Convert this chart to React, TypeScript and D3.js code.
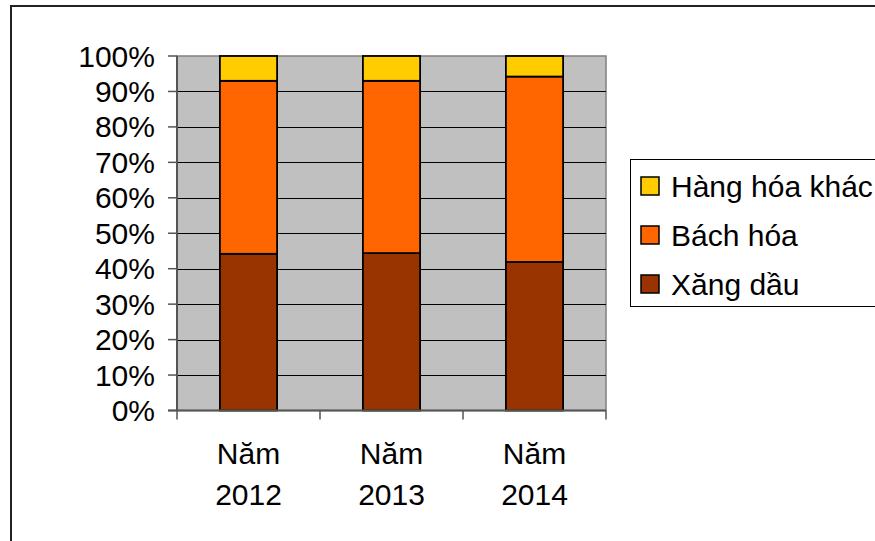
import * as d3 from 'd3'

// Categories and stacked shares (percent)
const YEARS = ['Năm 2012', 'Năm 2013', 'Năm 2014']
const XANG_DAU = [44.2, 44.4, 41.9]
const BACH_HOA = [48.8, 48.6, 52.3]
const HANG_KHAC = [7.0, 7.0, 5.8]
const Y_TICKS = [0, 10, 20, 30, 40, 50, 60, 70, 80, 90, 100]

const SERIES = [
  { name: 'Xăng dầu', values: XANG_DAU, color: '#993300' },
  { name: 'Bách hóa', values: BACH_HOA, color: '#FF6600' },
  { name: 'Hàng hóa khác', values: HANG_KHAC, color: '#FFCC00' },
]

const W = 875
const H = 541
const FONT = 'Liberation Sans, Arial, sans-serif'

const plot = { left: 177, right: 606, top: 56, bottom: 410.5 }

const App = () => {
  const x = d3.scaleBand<string>()
    .domain(YEARS)
    .range([plot.left, plot.right])
    .paddingInner(0.6)
    .paddingOuter(0.3)
  const step = x.step()
  const y = d3.scaleLinear().domain([0, 100]).range([plot.bottom, plot.top])

  // stack the series
  const rows = YEARS.map((yr, i) => {
    const r: Record<string, number | string> = { year: yr }
    SERIES.forEach(s => { r[s.name] = s.values[i] })
    return r
  })
  const stacked = d3.stack<any>().keys(SERIES.map(s => s.name))(rows)

  const legendItems = [...SERIES].reverse()

  return (
    <div style={{ position: 'absolute', left: 0, top: 0 }}>
      <svg width={W} height={H} style={{ display: 'block', background: '#fff' }} fontFamily={FONT}>
        {/* outer chart frame */}
        <rect x={11} y={6} width={1000} height={700} fill="none" stroke="#222" strokeWidth={2} />

        {/* plot area */}
        <rect x={plot.left} y={plot.top} width={plot.right - plot.left} height={plot.bottom - plot.top}
          fill="#C0C0C0" stroke="#808080" strokeWidth={1.5} />

        {/* gridlines */}
        {Y_TICKS.filter(t => t > 0 && t < 100).map(t => (
          <line key={t} x1={plot.left} x2={plot.right} y1={Math.round(y(t)) + 0.5} y2={Math.round(y(t)) + 0.5}
            stroke="#000" strokeWidth={1} />
        ))}

        {/* bars */}
        {stacked.map((layer, si) => (
          <g key={layer.key}>
            {layer.map((d, i) => (
              <rect key={i}
                x={x(YEARS[i])!}
                y={y(d[1])}
                width={x.bandwidth()}
                height={y(d[0]) - y(d[1])}
                fill={SERIES[si].color}
                stroke="#000"
                strokeWidth={1.8} />
            ))}
          </g>
        ))}

        {/* y axis */}
        <line x1={plot.left} x2={plot.left} y1={plot.top} y2={plot.bottom} stroke="#555" strokeWidth={2} />
        {Y_TICKS.map(t => (
          <g key={t}>
            <line x1={plot.left - 9} x2={plot.left} y1={y(t)} y2={y(t)} stroke="#555" strokeWidth={1.5} />
            <text x={155} y={y(t) + 10.5} textAnchor="end" fontSize={30} fill="#000">{t}%</text>
          </g>
        ))}

        {/* x axis */}
        <line x1={plot.left - 9} x2={plot.right} y1={plot.bottom} y2={plot.bottom} stroke="#555" strokeWidth={2} />
        {d3.range(YEARS.length + 1).map(i => {
          const xx = plot.left + x.paddingOuter() * 0 + i * step
          return <line key={i} x1={xx} x2={xx} y1={plot.bottom} y2={plot.bottom + 9} stroke="#555" strokeWidth={1.5} />
        })}
        {YEARS.map(yr => {
          const cx = x(yr)! + x.bandwidth() / 2
          const [l1, l2] = yr.split(' ')
          return (
            <text key={yr} textAnchor="middle" fontSize={30} fill="#000">
              <tspan x={cx} y={464}>{l1}</tspan>
              <tspan x={cx} y={505}>{l2}</tspan>
            </text>
          )
        })}

        {/* legend */}
        <rect x={630.5} y={159.5} width={300} height={147} fill="#fff" stroke="#000" strokeWidth={1} />
        {legendItems.map((s, i) => {
          const cy = 186 + i * 49
          return (
            <g key={s.name}>
              <rect x={641} y={cy - 9} width={18} height={18} fill={s.color} stroke="#000" strokeWidth={1.5} />
              <text x={671} y={cy + 10.5} fontSize={30} fill="#000">{s.name}</text>
            </g>
          )
        })}
      </svg>
    </div>
  )
}

export default App
